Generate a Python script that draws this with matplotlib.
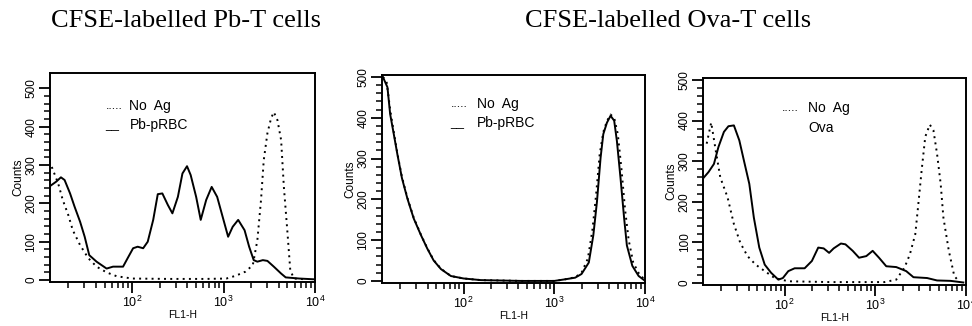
import numpy as np
import matplotlib
matplotlib.use("Agg")
from matplotlib import pyplot as plt
from matplotlib.ticker import FixedLocator, LogLocator, NullFormatter, FixedFormatter

plt.rcParams['font.family'] = ['Liberation Sans', 'DejaVu Sans']
plt.rcParams['mathtext.fontset'] = 'custom'
plt.rcParams['mathtext.rm'] = 'Liberation Sans'

pb_solid_log = [1.10, 1.17, 1.22, 1.26, 1.32, 1.37, 1.43, 1.48, 1.53, 1.61, 1.72, 1.79, 1.90, 1.95,
                2.01, 2.06, 2.12, 2.17, 2.23, 2.28, 2.33, 2.39, 2.44, 2.50, 2.55, 2.60, 2.64, 2.70,
                2.75, 2.81, 2.87, 2.93, 2.99, 3.05, 3.10, 3.16, 3.23, 3.28, 3.33, 3.37, 3.43, 3.48,
                3.55, 3.63, 3.68, 3.83, 3.99]
pb_solid = [245, 257, 268, 261, 226, 191, 152, 113, 65, 48, 30, 35, 35, 57,
            83, 87, 83, 100, 157, 224, 226, 196, 174, 217, 278, 297, 274, 217,
            157, 209, 243, 217, 165, 113, 139, 157, 130, 87, 52, 48, 52, 50,
            35, 17, 7, 4, 2]
pb_noag_log = [1.12, 1.19, 1.24, 1.30, 1.35, 1.43, 1.52, 1.61, 1.72, 1.83, 2.00, 2.40, 2.80, 3.03,
               3.13, 3.24, 3.32, 3.37, 3.41, 3.44, 3.48, 3.52, 3.55, 3.59, 3.63, 3.66, 3.70, 3.73,
               3.77, 3.90]
pb_noag = [295, 252, 209, 170, 130, 91, 57, 35, 20, 10, 4, 3, 3, 4,
           11, 22, 39, 104, 209, 313, 383, 422, 438, 417, 365, 243, 122, 26,
           4, 2]

ova_pb_solid_log = [1.11, 1.16, 1.19, 1.23, 1.27, 1.32, 1.38, 1.45, 1.53, 1.60, 1.67, 1.75, 1.86, 2.00,
                    2.19, 2.64, 3.00, 3.12, 3.23, 3.30, 3.38, 3.43, 3.47, 3.51, 3.54, 3.58, 3.62, 3.66,
                    3.69, 3.73, 3.77, 3.80, 3.86, 3.93, 3.99]
ova_pb_solid = [500, 475, 409, 360, 310, 252, 202, 153, 112, 79, 50, 29, 12, 6,
                2, 0, 0, 4, 8, 17, 45, 112, 194, 302, 360, 388, 405, 393,
                343, 252, 153, 87, 37, 12, 2]
ova_pb_noag_log = [1.11, 1.15, 1.19, 1.23, 1.27, 1.32, 1.38, 1.45, 1.53, 1.60, 1.67, 1.75, 1.86, 2.00,
                   2.19, 2.64, 3.00, 3.12, 3.23, 3.30, 3.37, 3.42, 3.46, 3.50, 3.54, 3.58, 3.62, 3.66,
                   3.70, 3.74, 3.78, 3.82, 3.87, 3.94, 4.00]
ova_pb_noag = [500, 490, 420, 365, 312, 255, 204, 155, 113, 80, 51, 30, 12, 6,
               2, 0, 0, 4, 9, 20, 55, 125, 210, 310, 365, 392, 408, 400,
               360, 275, 175, 100, 45, 15, 3]

ova_solid_log = [1.11, 1.16, 1.22, 1.27, 1.33, 1.38, 1.44, 1.50, 1.55, 1.61, 1.66, 1.72, 1.78, 1.85,
                 1.93, 1.98, 2.04, 2.11, 2.22, 2.30, 2.37, 2.43, 2.49, 2.54, 2.62, 2.67, 2.75, 2.82,
                 2.90, 2.97, 3.04, 3.12, 3.23, 3.34, 3.42, 3.57, 3.68, 3.83, 3.97]
ova_solid = [260, 273, 293, 335, 372, 386, 388, 351, 302, 244, 161, 87, 45, 25,
             8, 12, 29, 36, 36, 54, 87, 85, 74, 85, 97, 95, 79, 62,
             66, 79, 62, 41, 39, 29, 14, 12, 6, 5, 1]
ova_noag_log = [1.14, 1.19, 1.24, 1.29, 1.37, 1.44, 1.51, 1.59, 1.68, 1.78, 1.89, 2.04, 2.50, 3.10,
                3.23, 3.32, 3.38, 3.44, 3.47, 3.51, 3.55, 3.60, 3.64, 3.68, 3.72, 3.75, 3.81, 3.87,
                3.92]
ova_noag = [343, 395, 326, 260, 211, 145, 99, 66, 45, 29, 12, 4, 2, 2,
            8, 37, 70, 120, 186, 277, 360, 390, 376, 318, 244, 161, 79, 17,
            4]

titles = ["CFSE-labelled Pb-T cells", "CFSE-labelled Ova-T cells"]
legend_labels = [["No  Ag", "Pb-pRBC"], ["No  Ag", "Pb-pRBC"], ["No  Ag", "Ova"]]

panels = [
    (pb_noag_log, pb_noag, pb_solid_log, pb_solid),
    (ova_pb_noag_log, ova_pb_noag, ova_pb_solid_log, ova_pb_solid),
    (ova_noag_log, ova_noag, ova_solid_log, ova_solid),
]
rects = [
    [0.0514, 0.135, 0.2726, 0.641],
    [0.393, 0.132, 0.2706, 0.638],
    [0.7233, 0.126, 0.2706, 0.635],
]
ytops = [540, 505, 505]
leg_pos = [(0.21, 0.30, 0.84, 0.75), (0.26, 0.36, 0.86, 0.77), (0.30, 0.40, 0.855, 0.76)]

fig = plt.figure(figsize=(9.72, 3.26), dpi=100)

for i, (dx, dy, sx, sy) in enumerate(panels):
    ax = fig.add_axes(rects[i])
    ax.plot(10 ** np.array(dx), dy, color='black', lw=1.4, linestyle=(0, (1, 2.2)))
    ax.plot(10 ** np.array(sx), sy, color='black', lw=1.4)
    ax.set_xscale('log')
    ax.set_xlim(10 ** 1.1, 10 ** 4.0)
    ax.set_ylim(-5, ytops[i])

    ax.xaxis.set_major_locator(FixedLocator([100, 1000, 10000]))
    ax.xaxis.set_major_formatter(FixedFormatter([r'$\mathregular{10^2}$', r'$\mathregular{10^3}$', r'$\mathregular{10^4}$']))
    ax.xaxis.set_minor_locator(LogLocator(base=10, subs=np.arange(2, 10)))
    ax.xaxis.set_minor_formatter(NullFormatter())
    ax.yaxis.set_major_locator(FixedLocator([0, 100, 200, 300, 400, 500]))
    ax.yaxis.set_minor_locator(FixedLocator(np.arange(0, 520, 20)))

    ax.tick_params(which='major', direction='out', length=8, width=1.3, pad=1)
    ax.tick_params(axis='x', which='major', labelsize=9)
    ax.tick_params(axis='y', which='major', labelsize=8.5)
    ax.tick_params(which='minor', direction='out', length=4, width=1.1)
    for lab in ax.get_yticklabels():
        lab.set_rotation(90)
        lab.set_va('center')
    for sp in ax.spines.values():
        sp.set_linewidth(1.4)

    ax.set_xlabel('FL1-H', fontsize=7.5, labelpad=0)
    ax.set_ylabel('Counts', fontsize=8.5, labelpad=1)

    x0, x1, y0, y1 = leg_pos[i]
    ax.text(x0, y0, '.....', transform=ax.transAxes, fontsize=9, va='center')
    ax.text(x1, y0, legend_labels[i][0], transform=ax.transAxes, fontsize=10, va='center')
    if i < 2:
        ax.text(x0, y1, '__', transform=ax.transAxes, fontsize=9, va='center')
    ax.text(x1, y1, legend_labels[i][1], transform=ax.transAxes, fontsize=10, va='center')

fig.text(186 / 972, 1 - 27 / 326, titles[0], ha='center', va='baseline',
         family='Liberation Serif', fontsize=19)
fig.text(668 / 972, 1 - 27 / 326, titles[1], ha='center', va='baseline',
         family='Liberation Serif', fontsize=19)

fig.savefig('out.png', dpi=100)
